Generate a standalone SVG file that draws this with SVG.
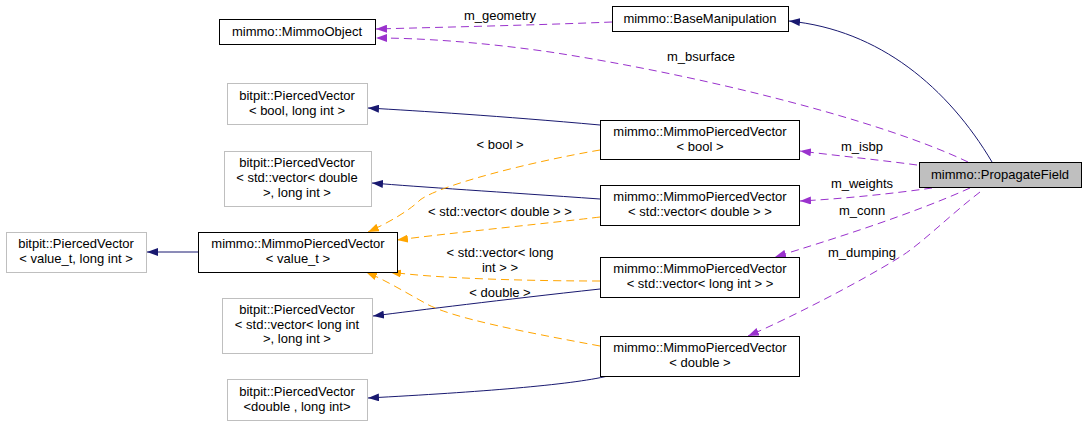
<svg xmlns="http://www.w3.org/2000/svg" width="1085" height="425" viewBox="0 0 1085 425">
<style>
text{font-family:"Liberation Sans",Arial,sans-serif;font-size:13px;fill:#000;text-anchor:middle}
.nb rect{fill:#fff;stroke:#000;stroke-width:1}
.ng rect{fill:#fff;stroke:#bfbfbf;stroke-width:1}
.nf rect{fill:#bfbfbf;stroke:#000;stroke-width:1}
.inh{fill:none;stroke:#191970;stroke-width:1;marker-end:url(#aN)}
.tpl{fill:none;stroke:#ffa500;stroke-width:1;stroke-dasharray:8,5;marker-end:url(#aO)}
.use{fill:none;stroke:#9a32cd;stroke-width:1;stroke-dasharray:8,5;marker-end:url(#aP)}
</style>
<defs>
<marker id="aN" viewBox="0 0 11 8" refX="11" refY="4" markerWidth="11" markerHeight="8" markerUnits="userSpaceOnUse" orient="auto"><path d="M0,0L11,4L0,8z" fill="#191970"/></marker>
<marker id="aO" viewBox="0 0 11 8" refX="11" refY="4" markerWidth="11" markerHeight="8" markerUnits="userSpaceOnUse" orient="auto"><path d="M0,0L11,4L0,8z" fill="#ffa500"/></marker>
<marker id="aP" viewBox="0 0 11 8" refX="11" refY="4" markerWidth="11" markerHeight="8" markerUnits="userSpaceOnUse" orient="auto"><path d="M0,0L11,4L0,8z" fill="#9a32cd"/></marker>
</defs>
<rect width="1085" height="425" fill="#fff"/>
<g id="edges">
<path class="inh" d="M992,162 C948,88 880,30 789,21"/>
<path class="inh" d="M600,125 C500,116 420,111 368,108"/>
<path class="inh" d="M600,199 C500,192 420,187 372,183"/>
<path class="inh" d="M198,252 L147,252"/>
<path class="inh" d="M600,289 C500,300 420,310 373,316"/>
<path class="inh" d="M608,376 C570,385 480,392 368,398"/>
<path class="tpl" d="M600,150 C530,162 440,185 420,200 C410,210 390,222 368,232"/>
<path class="tpl" d="M600,217 C560,222 450,233 397,240"/>
<path class="tpl" d="M600,281 C540,281 440,279 390,272"/>
<path class="tpl" d="M600,346 C530,333 450,318 425,303 C405,292 385,280 366,272"/>
<path class="use" d="M612,22 C540,25 450,27 376,29"/>
<path class="use" d="M968,162 C880,120 700,75 550,52 C480,42 420,38 376,38"/>
<path class="use" d="M917,165 C880,160 840,156 800,151"/>
<path class="use" d="M932,188 C890,194 840,199 800,201"/>
<path class="use" d="M970,188 C910,215 830,240 775,257"/>
<path class="use" d="M980,192 C950,215 920,245 900,257 C860,282 790,318 748,336"/>
<text x="500" y="20">m_geometry</text>
<text x="701" y="61">m_bsurface</text>
<text x="862" y="151">m_isbp</text>
<text x="862" y="188">m_weights</text>
<text x="862" y="215">m_conn</text>
<text x="862" y="257">m_dumping</text>
<text x="500" y="149">&lt; bool &gt;</text>
<text x="500" y="216">&lt; std::vector&lt; double &gt; &gt;</text>
<text x="500" y="257">&lt; std::vector&lt; long</text>
<text x="500" y="272">int &gt; &gt;</text>
<text x="500" y="297">&lt; double &gt;</text>
</g>
<g id="n_MimmoObject" class="nb"><rect x="219.5" y="19.5" width="156" height="25"/><text x="297" y="36">mimmo::MimmoObject</text></g>
<g id="n_BaseManipulation" class="nb"><rect x="612.5" y="6.5" width="176" height="25"/><text x="700" y="23">mimmo::BaseManipulation</text></g>
<g id="n_PV_bool" class="ng"><rect x="227.5" y="83.5" width="140" height="41"/><text x="297" y="100">bitpit::PiercedVector</text><text x="297" y="115">&lt; bool, long int &gt;</text></g>
<g id="n_PV_vecdouble" class="ng"><rect x="224.5" y="151.5" width="147" height="55"/><text x="297" y="167">bitpit::PiercedVector</text><text x="297" y="182">&lt; std::vector&lt; double</text><text x="297" y="197">&gt;, long int &gt;</text></g>
<g id="n_PV_value_t" class="ng"><rect x="6.5" y="232.5" width="140" height="40"/><text x="76" y="248">bitpit::PiercedVector</text><text x="76" y="263">&lt; value_t, long int &gt;</text></g>
<g id="n_MPV_value_t" class="nb"><rect x="198.5" y="232.5" width="199" height="40"/><text x="298" y="248">mimmo::MimmoPiercedVector</text><text x="298" y="263">&lt; value_t &gt;</text></g>
<g id="n_PV_veclong" class="ng"><rect x="222.5" y="298.5" width="150" height="55"/><text x="297" y="314">bitpit::PiercedVector</text><text x="297" y="329">&lt; std::vector&lt; long int</text><text x="297" y="343">&gt;, long int &gt;</text></g>
<g id="n_PV_double" class="ng"><rect x="227.5" y="379.5" width="140" height="41"/><text x="297" y="396">bitpit::PiercedVector</text><text x="297" y="411">&lt;double , long int&gt;</text></g>
<g id="n_MPV_bool" class="nb"><rect x="600.5" y="120.5" width="199" height="39"/><text x="700" y="136">mimmo::MimmoPiercedVector</text><text x="700" y="151">&lt; bool &gt;</text></g>
<g id="n_MPV_vecdouble" class="nb"><rect x="600.5" y="185.5" width="199" height="40"/><text x="700" y="201">mimmo::MimmoPiercedVector</text><text x="700" y="216">&lt; std::vector&lt; double &gt; &gt;</text></g>
<g id="n_MPV_veclong" class="nb"><rect x="600.5" y="257.5" width="199" height="40"/><text x="700" y="273">mimmo::MimmoPiercedVector</text><text x="700" y="288">&lt; std::vector&lt; long int &gt; &gt;</text></g>
<g id="n_MPV_double" class="nb"><rect x="600.5" y="336.5" width="199" height="40"/><text x="700" y="352">mimmo::MimmoPiercedVector</text><text x="700" y="367">&lt; double &gt;</text></g>
<g id="n_PropagateField" class="nf"><rect x="919.5" y="162.5" width="162" height="25"/><text x="1000" y="179">mimmo::PropagateField</text></g>
</svg>
